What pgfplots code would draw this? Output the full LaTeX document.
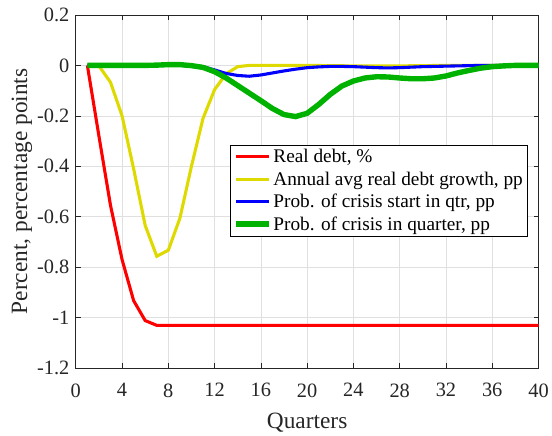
\documentclass[border=0pt]{standalone}
\usepackage{fontspec}
\setmainfont{Liberation Serif}
\usepackage{pgfplots}
\pgfplotsset{compat=1.18}

\definecolor{axisgray}{gray}{0.15}
\definecolor{gridgray}{gray}{0.88}
\definecolor{debtyellow}{RGB}{222,218,0}
\definecolor{crisisgreen}{RGB}{0,178,0}

\begin{document}
\begin{tikzpicture}
\begin{axis}[
  scale only axis,
  width=464bp, height=354bp,
  at={(0,0)}, anchor=south west,
  xmin=0, xmax=40, ymin=-1.2, ymax=0.2,
  xtick={0,4,...,40},
  ytick={-1.2,-1,-0.8,-0.6,-0.4,-0.2,0,0.2},
  /pgf/number format/assume math mode=true,
  tick label style={font=\fontsize{20.5}{24}\selectfont, text=axisgray},
  label style={font=\fontsize{23.5}{28}\selectfont, text=axisgray},
  xlabel={Quarters},
  ylabel={Percent, percentage points},
  xlabel style={yshift=-9bp},
  ylabel style={yshift=-2bp},
  grid=major,
  major grid style={gridgray, line width=0.6bp},
  axis line style={axisgray, line width=0.8bp},
  tick style={axisgray, line width=0.6bp},
  tick align=inside,
  major tick length=5bp,
  xticklabel style={yshift=-12bp},
  yticklabel style={xshift=-3bp},
  legend cell align=left,
  legend style={
    at={(0.334,0.633)}, anchor=north west,
    font=\fontsize{19.4}{22}\selectfont,
    draw=black, line width=0.6bp, fill=white,
    inner sep=2.5bp, row sep=3.5bp,
    nodes={inner sep=2bp},
  },
  legend image code/.code={\draw[#1] (0bp,0bp) -- (33bp,0bp);},
]
\addplot[red, line width=3.1bp] coordinates {
  (1,0) (2,-0.28) (3,-0.555) (4,-0.77) (5,-0.933) (6,-1.012) (7,-1.031)
  (8,-1.031) (12,-1.031) (16,-1.031) (20,-1.031) (24,-1.031) (28,-1.031)
  (32,-1.031) (36,-1.031) (40,-1.031)
};
\addlegendentry{Real debt, \%}

\addplot[debtyellow, line width=3.1bp] coordinates {
  (1,0) (2,-0.002) (3,-0.067) (4,-0.2) (5,-0.41) (6,-0.635) (7,-0.757)
  (8,-0.733) (9,-0.606) (10,-0.40) (11,-0.21) (12,-0.096) (13,-0.033)
  (14,-0.005) (15,0) (16,0) (20,0) (24,-0.002) (28,-0.002) (32,0) (36,0) (40,0)
};
\addlegendentry{Annual avg real debt growth, pp}

\addplot[blue, line width=3.1bp] coordinates {
  (1,0) (2,0) (3,0) (4,0) (5,0) (6,0) (7,0) (8,0) (9,0) (10,-0.001)
  (11,-0.005) (12,-0.018) (13,-0.032) (14,-0.040) (15,-0.043) (16,-0.038)
  (17,-0.030) (18,-0.022) (19,-0.015) (20,-0.009) (21,-0.006) (22,-0.004)
  (23,-0.004) (24,-0.005) (25,-0.007) (26,-0.009) (27,-0.010) (28,-0.009)
  (29,-0.007) (30,-0.005) (31,-0.004) (32,-0.003) (33,-0.002) (34,-0.001)
  (35,0) (36,0) (37,0) (38,0) (39,0) (40,0)
};
\addlegendentry{Prob. of crisis start in qtr, pp}

\addplot[crisisgreen, line width=5.4bp] coordinates {
  (1,0) (2,0) (3,0) (4,0) (5,0) (6,0) (7,0.001) (8,0.003) (9,0.003)
  (10,-0.001) (11,-0.008) (12,-0.025) (13,-0.05) (14,-0.08) (15,-0.11)
  (16,-0.14) (17,-0.171) (18,-0.195) (19,-0.203) (20,-0.19) (21,-0.155)
  (22,-0.115) (23,-0.082) (24,-0.062) (25,-0.05) (26,-0.045) (27,-0.046)
  (28,-0.05) (29,-0.053) (30,-0.053) (31,-0.05) (32,-0.042) (33,-0.03)
  (34,-0.02) (35,-0.011) (36,-0.005) (37,-0.002) (38,0) (39,0) (40,0)
};
\addlegendentry{Prob. of crisis in quarter, pp}
\end{axis}
\path[use as bounding box] (-76bp,-60bp) rectangle (476bp,369bp);
\end{tikzpicture}
\end{document}
